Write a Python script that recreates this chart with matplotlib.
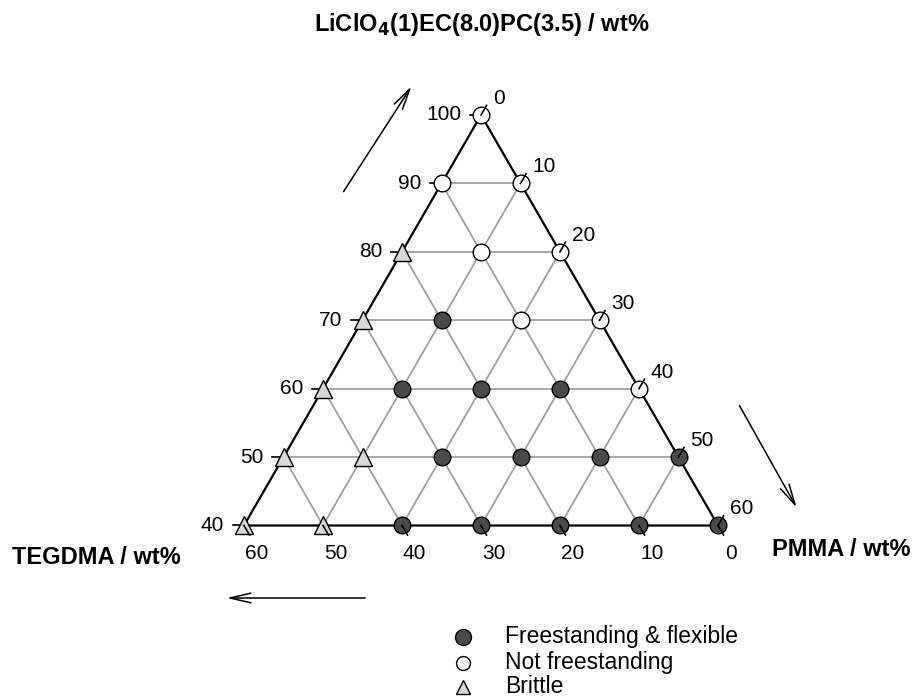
import numpy as np
import matplotlib
matplotlib.use("Agg")
import matplotlib.pyplot as plt

plt.rcParams['font.family'] = ['Liberation Sans', 'DejaVu Sans']

# ---- data (LiClO4 wt%, PMMA wt%); TEGDMA = 100 - L - P ----
free_L = [70, 60, 60, 60, 50, 50, 50, 50, 40, 40, 40, 40, 40]
free_P = [10, 10, 20, 30, 20, 30, 40, 50, 20, 30, 40, 50, 60]
open_L = [100, 90, 90, 80, 80, 70, 70, 60]
open_P = [0, 0, 10, 10, 20, 20, 30, 40]
brit_L = [80, 70, 60, 50, 50, 40, 40]
brit_P = [0, 0, 0, 0, 10, 0, 10]

left_ticks = [100, 90, 80, 70, 60, 50, 40]      # LiClO4
right_ticks = [0, 10, 20, 30, 40, 50, 60]       # PMMA
bottom_ticks = [60, 50, 40, 30, 20, 10, 0]      # TEGDMA
grid_levels = [40, 50, 60, 70, 80, 90]
L_MIN = 40

S3 = np.sqrt(3) / 2


def tern(L, P):
    L = np.asarray(L, float)
    P = np.asarray(P, float)
    T = 100 - L - P
    return (P - T) / 2, L * S3


W, H = 913, 699
sc = 7.9
fig = plt.figure(figsize=(W / 100, H / 100), dpi=100)
ax = fig.add_axes([0, 0, 1, 1])
x0 = -481 / sc
ax.set_xlim(x0, x0 + W / sc)
ytop = 100 * S3 + 115 / sc
ax.set_ylim(ytop - H / sc, ytop)
ax.axis('off')

gcol = '#a0a0a0'
# grid: constant L
for L in grid_levels[1:]:
    xs, ys = tern([L, L], [0, 100 - L])
    ax.plot(xs, ys, color=gcol, lw=1.3, zorder=1)
# constant P
for p in range(10, 60, 10):
    xs, ys = tern([100 - p, L_MIN], [p, p])
    ax.plot(xs, ys, color=gcol, lw=1.3, zorder=1)
# constant T
for t in range(10, 60, 10):
    xs, ys = tern([100 - t, L_MIN], [0, 60 - t])
    ax.plot(xs, ys, color=gcol, lw=1.3, zorder=1)

# outer boundary
xs, ys = tern([100, L_MIN, L_MIN, 100], [0, 0, 100 - L_MIN, 0])
ax.plot(xs, ys, color='black', lw=1.6, zorder=2, solid_joinstyle='miter')

# ticks and labels
tk = 1.4
fs = 15
for L in left_ticks:
    x, y = tern(L, 0)
    ax.plot([x - tk, x], [y, y], color='black', lw=1.2, zorder=2)
    ax.text(x - 2.5, y, str(L), ha='right', va='center', fontsize=fs)
for p in right_ticks:
    x, y = tern(100 - p, p)
    ax.plot([x, x + tk * 0.5], [y, y + tk * S3], color='black', lw=1.2, zorder=4)
    ax.text(x + 1.5, y + 2.1, str(p), ha='left', va='center', fontsize=fs)
for t in bottom_ticks:
    P = 60 - t
    x, y = tern(L_MIN, P)
    ax.plot([x, x + tk * 0.5], [y, y - tk * S3], color='black', lw=1.2, zorder=4)
    ax.text(x + 1.6, y - 3.6, str(t), ha='center', va='center', fontsize=fs)

ms = 12
x, y = tern(free_L, free_P)
ax.plot(x, y, 'o', ms=ms, mfc='#4a4a4a', mec='black', mew=1.0, ls='none', zorder=3)
x, y = tern(open_L, open_P)
ax.plot(x, y, 'o', ms=ms, mfc='white', mec='black', mew=1.0, ls='none', zorder=3)
x, y = tern(brit_L, brit_P)
ax.plot(x, y, '^', ms=ms + 1, mfc='#d8d8d8', mec='black', mew=1.0, ls='none', zorder=3)

# axis titles
fig.text(482 / W, 1 - 25 / H, r'LiClO$_\mathbf{4}$(1)EC(8.0)PC(3.5) / wt%',
         ha='center', va='center', fontsize=17, fontweight='bold')
fig.text(12 / W, 1 - 557 / H, 'TEGDMA / wt%', ha='left', va='center',
         fontsize=17, fontweight='bold')
fig.text(772 / W, 1 - 550 / H, 'PMMA / wt%', ha='left', va='center',
         fontsize=17, fontweight='bold')


def parrow(p1, p2):
    ax.annotate('', xy=(x0 + p2[0] / sc, ytop - p2[1] / sc),
                xytext=(x0 + p1[0] / sc, ytop - p1[1] / sc),
                arrowprops=dict(arrowstyle='->,head_length=1.5,head_width=0.35',
                                color='black', lw=1.1))


parrow((342, 194), (413, 84))
parrow((738, 403), (798, 510))
parrow((368, 598), (224, 598))

# legend
leg = [('o', '#4a4a4a', 'Freestanding & flexible', 637, 11.5),
       ('o', 'white', 'Not freestanding', 663, 10),
       ('^', '#d8d8d8', 'Brittle', 687, 10)]
for m, c, lab, yp, lms in leg:
    ax.plot([x0 + 463 / sc], [ytop - yp / sc], m, ms=lms, mfc=c, mec='black',
            mew=1.0, ls='none')
    ax.text(x0 + 505 / sc, ytop - (yp - 1) / sc, lab, ha='left', va='center',
            fontsize=16.5)

fig.savefig('out.png', dpi=100)
